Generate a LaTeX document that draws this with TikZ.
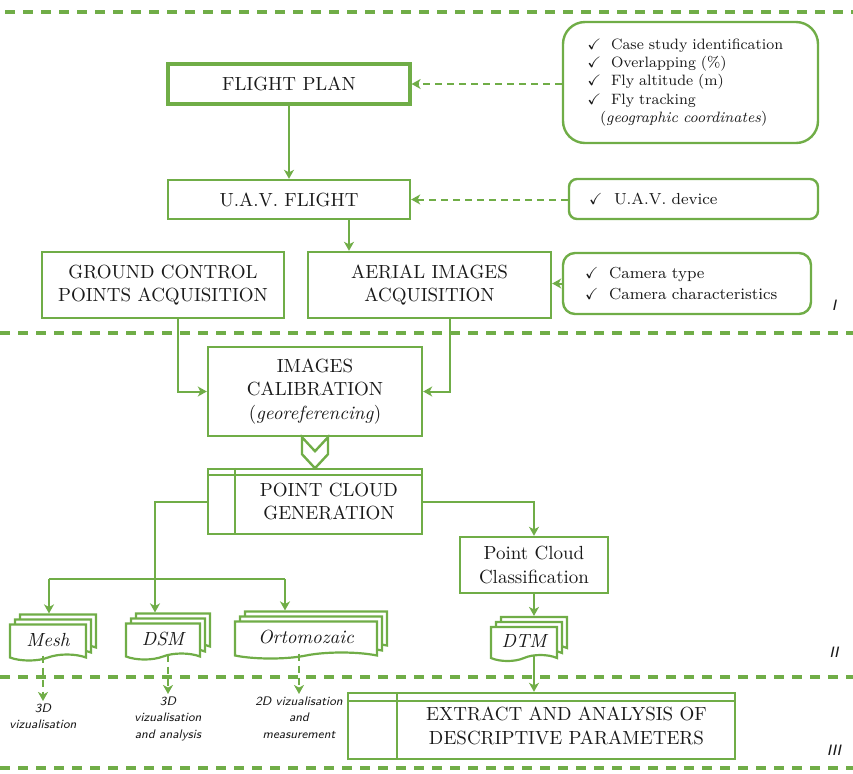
\documentclass[tikz,border=0pt]{standalone}
\usepackage{amssymb}
\usetikzlibrary{arrows.meta,positioning,shapes.symbols,shadows}
\definecolor{leafgreen}{RGB}{112,173,71}
\definecolor{inkgray}{RGB}{25,25,25}
\newcommand{\chk}[1][12pt]{\makebox[#1][l]{$\checkmark$}}

\begin{document}
\begin{tikzpicture}[
  x=0.5pt,y=-0.5pt,
  every node/.style={text=inkgray, font=\fontsize{9.5}{11.8}\selectfont},
  box/.style={draw=leafgreen, line width=1.2pt, align=center, inner sep=2pt},
  checklist/.style={draw=leafgreen, line width=1.2pt, align=left, inner ysep=2pt, font=\fontsize{8}{10.5}\selectfont},
  doc/.style={tape, tape bend top=none, tape bend height=3pt, draw=leafgreen, line width=1.1pt, fill=white,
    double copy shadow={shadow xshift=2.5pt, shadow yshift=2.5pt}, inner sep=1pt,
    font=\fontsize{9.5}{11}\selectfont\itshape},
  usage/.style={align=center, inner sep=1pt, font=\fontsize{6.2}{8.3}\selectfont\sffamily\itshape},
  numeral/.style={font=\fontsize{7.5}{9}\selectfont\sffamily\itshape},
  section/.style={draw=leafgreen, line width=2pt, dash pattern=on 5pt off 4pt},
  arrow/.style={-{Stealth[length=4.5pt,width=5pt,inset=1.3pt]}, line width=1pt, draw=leafgreen},
  dasharrow/.style={-{Stealth[length=4.5pt,width=5pt,inset=1.3pt]}, line width=1pt, draw=leafgreen, dash pattern=on 3.5pt off 2.5pt}
]
\useasboundingbox (0,0) rectangle (853,773);

% phase separators
\draw[section] (5,12) -- (853,12);
\draw[section] (0,333) -- (853,333);
\draw[section] (0,677) -- (853,677);
\draw[section] (0,768) -- (853,768);
\node[numeral] (phaseI) at (834,305) {I};
\node[numeral] (phaseII) at (834,652) {II};
\node[numeral] (phaseIII) at (834,750) {III};

% phase I
\node[box, line width=1.6pt, minimum width=121pt, minimum height=20pt] (plan) at (289,84) {FLIGHT PLAN};
\node[box, minimum width=121pt, minimum height=19.5pt] (flight) at (289,199.5) {U.A.V. FLIGHT};
\node[box, minimum width=121pt, minimum height=33pt] (gcp) at (163,285) {GROUND CONTROL\\POINTS ACQUISITION};
\node[box, minimum width=121.5pt, minimum height=33pt] (aerial) at (429.5,285) {AERIAL IMAGES\\ACQUISITION};

\node[checklist, rounded corners=11pt, inner xsep=12pt, text width=103.5pt, minimum height=60.5pt,
  font=\fontsize{7.5}{9.2}\selectfont] (list1) at (690.5,82.5) {\chk Case study identification\\
\chk Overlapping (\%)\\
\chk Fly altitude (m)\\
\chk Fly tracking\\
\hspace*{6.5pt}(\textit{geographic coordinates})};
\node[checklist, rounded corners=4pt, inner xsep=10pt, text width=104.5pt, minimum height=20pt] (list2) at (693.5,199) {\chk[12.5pt]U.A.V. device};
\node[checklist, rounded corners=6pt, inner xsep=11pt, text width=102pt, minimum height=30.5pt] (list3) at (687,283.5) {\chk Camera type\\
\chk Camera characteristics};

\draw[dasharrow] (list1.west |- plan.east) -- (plan.east);
\draw[dasharrow] (list2.west |- flight.east) -- (flight.east);
\draw[arrow] (list3.west) -- (list3.west -| aerial.east);
\draw[arrow] (plan.south) -- (flight.north);
\draw[arrow] ([xshift=30pt]flight.south) -- ([xshift=30pt]flight.south |- aerial.north);

% phase II
\node[box, minimum width=107pt, minimum height=44.5pt] (calib) at (315,391.5) {IMAGES\\CALIBRATION\\(\textit{georeferencing})};
\node[box, minimum width=107pt, minimum height=32.5pt] (cloud) at (315,501.5) {};
\node[align=center] (cloudtxt) at ([xshift=7pt]cloud.center) {POINT CLOUD\\GENERATION};
\draw[leafgreen, line width=1.2pt] ([xshift=14pt]cloud.north west) -- ([xshift=14pt]cloud.south west);
\draw[leafgreen, line width=1.2pt] ([yshift=-3.5pt]cloud.north west) -- ([yshift=-3.5pt]cloud.north east);

\draw[arrow] ([xshift=7.5pt]gcp.south) |- (calib.west);
\draw[arrow] ([xshift=10pt]aerial.south) |- (calib.east);
\draw[leafgreen, line width=1.2pt, line join=miter] ([xshift=-6.5pt]calib.south) -- ++(0pt,-8.5pt)
  -- ++(6.5pt,-7pt) -- ++(6.5pt,7pt) -- ++(0pt,8.5pt) -- ++(-6.5pt,-7pt) -- cycle;

\node[box, minimum width=74pt, minimum height=28pt] (classif) at (534,565) {Point Cloud\\Classification};

\node[doc, minimum width=38pt, minimum height=18pt] (mesh) at (48,639.5) {Mesh};
\node[doc, minimum width=37pt, minimum height=18pt] (dsm) at (163,638.5) {DSM};
\node[doc, minimum width=71pt, minimum height=18.5pt] (orto) at (306,637) {Ortomozaic};
\node[doc, minimum width=33pt, minimum height=17pt] (dtm) at (524,641) {DTM};

\coordinate (busl) at (49,579);
\coordinate (busm) at (155,579);
\coordinate (busr) at (285,579);
\draw[leafgreen, line width=1pt] (busl) -- (busr);
\draw[arrow] (cloud.west) -| ([yshift=5pt]busm |- dsm.north);
\draw[arrow] (busl) -- ([yshift=5pt]busl |- mesh.north);
\draw[arrow] (busr) -- ([yshift=5pt]busr |- orto.north);
\draw[arrow] (cloud.east) -| (classif.north);
\draw[arrow] (classif.south) -- ([yshift=5pt]classif.south |- dtm.north);

\node[usage, anchor=north] (meshuse) at (43,701) {3D\\vizualisation};
\node[usage, anchor=north] (dsmuse) at (168,694) {3D\\vizualisation\\and analysis};
\node[usage, anchor=north] (ortouse) at (299,694) {2D vizualisation\\and\\measurement};
\draw[dasharrow] (meshuse.north |- mesh.south) -- (meshuse.north);
\draw[dasharrow] (dsmuse.north |- dsm.south) -- (dsmuse.north);
\draw[dasharrow] (ortouse.north |- orto.south) -- (ortouse.north);

% phase III
\node[box, minimum width=193.5pt, minimum height=33pt] (extract) at (541.5,726) {};
\node[align=center] (extracttxt) at ([xshift=12.5pt]extract.center) {EXTRACT AND ANALYSIS OF\\DESCRIPTIVE PARAMETERS};
\draw[leafgreen, line width=1.2pt] ([xshift=25pt]extract.north west) -- ([xshift=25pt]extract.south west);
\draw[leafgreen, line width=1.2pt] ([yshift=-4.5pt]extract.north west) -- ([yshift=-4.5pt]extract.north east);
\draw[arrow] (classif.south |- dtm.south) -- (classif.south |- extract.north);
\end{tikzpicture}
\end{document}
